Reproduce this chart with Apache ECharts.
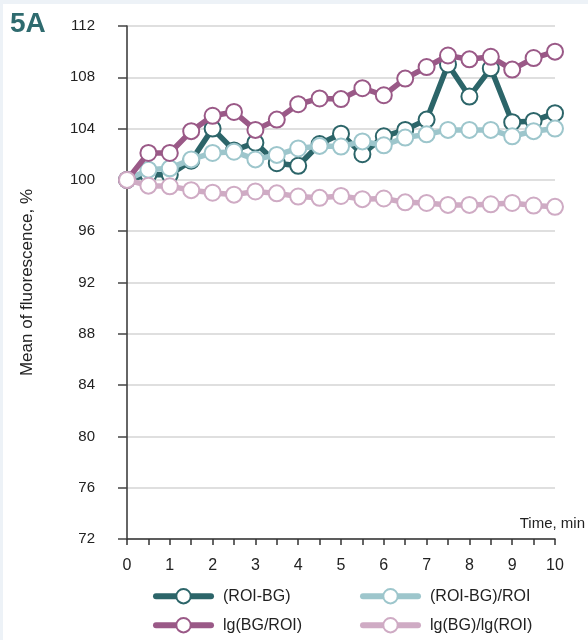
<!DOCTYPE html>
<html>
<head>
<meta charset="utf-8">
<script src="https://cdn.jsdelivr.net/npm/echarts@6/dist/echarts.min.js"></script>
<style>
  html, body { margin: 0; padding: 0; background: #edf2f7; }
  #chart { position: absolute; left: 3px; top: 4px; width: 585px; height: 636px; background: #fff; }
</style>
</head>
<body>
<div id="chart"></div>
<script>
// Time points, minutes
const timeMin = [0, 0.5, 1, 1.5, 2, 2.5, 3, 3.5, 4, 4.5, 5, 5.5, 6, 6.5, 7, 7.5, 8, 8.5, 9, 9.5, 10];

// Mean of fluorescence, % for each normalisation
const roiMinusBg = [100, 100.4, 100.4, 101.5, 104.0, 102.3, 102.9, 101.3, 101.1, 102.8, 103.6, 102.0, 103.4, 103.9, 104.7, 109.0, 106.5, 108.7, 104.5, 104.6, 105.2];
const roiMinusBgOverRoi = [100, 100.8, 100.9, 101.6, 102.1, 102.2, 101.6, 101.95, 102.45, 102.65, 102.6, 103.0, 102.7, 103.3, 103.55, 103.9, 103.9, 103.9, 103.4, 103.8, 104.0];
const lgBgOverRoi = [100, 102.1, 102.1, 103.8, 105.0, 105.3, 103.9, 104.7, 105.9, 106.35, 106.3, 107.15, 106.6, 107.9, 108.8, 109.7, 109.4, 109.6, 108.6, 109.5, 110.0];
const lgBgOverLgRoi = [100, 99.55, 99.5, 99.2, 99.0, 98.85, 99.1, 98.95, 98.7, 98.6, 98.75, 98.5, 98.55, 98.25, 98.2, 98.05, 98.05, 98.1, 98.2, 98.0, 97.9];

const seriesNames = ['(ROI-BG)', '(ROI-BG)/ROI', 'lg(BG/ROI)', 'lg(BG)/lg(ROI)'];
const seriesValues = [roiMinusBg, roiMinusBgOverRoi, lgBgOverRoi, lgBgOverLgRoi];
const seriesColors = ['#2c6569', '#9dc6cc', '#9a5987', '#cfabc4'];

const FONT = "'Liberation Sans', Arial, sans-serif";

const chart = echarts.init(document.getElementById('chart'), null, { renderer: 'canvas' });

// One legend per entry, laid out as a 2 x 2 block under the plot
const legendSlots = [
  { left: 150, top: 584 },  // (ROI-BG)
  { left: 357, top: 584 },  // (ROI-BG)/ROI
  { left: 150, top: 613 },  // lg(BG/ROI)
  { left: 357, top: 613 }   // lg(BG)/lg(ROI)
];

const legends = seriesNames.map((name, i) => ({
  left: legendSlots[i].left,
  top: legendSlots[i].top,
  padding: 0,
  itemWidth: 55,
  itemHeight: 18,
  selectedMode: false,
  textStyle: { fontFamily: FONT, fontSize: 16, color: '#222', padding: [0, 0, 0, 7] },
  data: [{
    name: name,
    itemStyle: { color: '#fff', borderColor: seriesColors[i], borderWidth: 2 },
    lineStyle: { color: seriesColors[i], width: 6, cap: 'round' }
  }]
}));

chart.setOption({
  animation: false,
  textStyle: { fontFamily: FONT },
  grid: { left: 124, right: 33, top: 22, bottom: 101 },
  graphic: [
    {
      type: 'text', left: 7, top: 6,
      style: { text: '5A', font: "bold 28px " + FONT, fill: '#2f6b6f' }
    }
  ],
  legend: legends,
  xAxis: {
    type: 'value',
    min: 0, max: 10, interval: 1,
    name: 'Time, min',
    nameLocation: 'end',
    nameGap: 30,
    nameTextStyle: { fontSize: 15, color: '#222', align: 'right', verticalAlign: 'bottom', padding: [0, 0, 8, 0] },
    axisLine: { onZero: false, lineStyle: { color: '#333', width: 1.5 } },
    axisTick: { length: 6, lineStyle: { color: '#333', width: 1.5 } },
    minorTick: { show: true, splitNumber: 2, length: 6, lineStyle: { color: '#333', width: 1.5 } },
    axisLabel: { fontSize: 16, color: '#222', margin: 19 },
    splitLine: { show: false }
  },
  yAxis: {
    type: 'value',
    min: 72, max: 112, interval: 4,
    name: 'Mean of fluorescence, %',
    nameLocation: 'middle',
    nameGap: 91,
    nameTextStyle: { fontSize: 17, color: '#222' },
    axisLine: { show: true, lineStyle: { color: '#333', width: 1.5 } },
    axisTick: { show: true, length: 9, lineStyle: { color: '#444', width: 1.5 } },
    axisLabel: { fontSize: 15, color: '#222', margin: 32 },
    splitLine: { show: true, lineStyle: { color: '#d4d4d4', width: 1.5 } }
  },
  series: seriesNames.map((name, i) => ({
    name: name,
    type: 'line',
    data: timeMin.map((t, k) => [t, seriesValues[i][k]]),
    symbol: 'circle',
    symbolSize: 16,
    showAllSymbol: true,
    z: 2 + (i === 3 ? 3 : i),
    lineStyle: { color: seriesColors[i], width: 5.5, cap: 'round', join: 'round' },
    itemStyle: { color: '#fff', borderColor: seriesColors[i], borderWidth: 2 },
    emphasis: { disabled: true }
  }))
});
</script>
</body>
</html>
